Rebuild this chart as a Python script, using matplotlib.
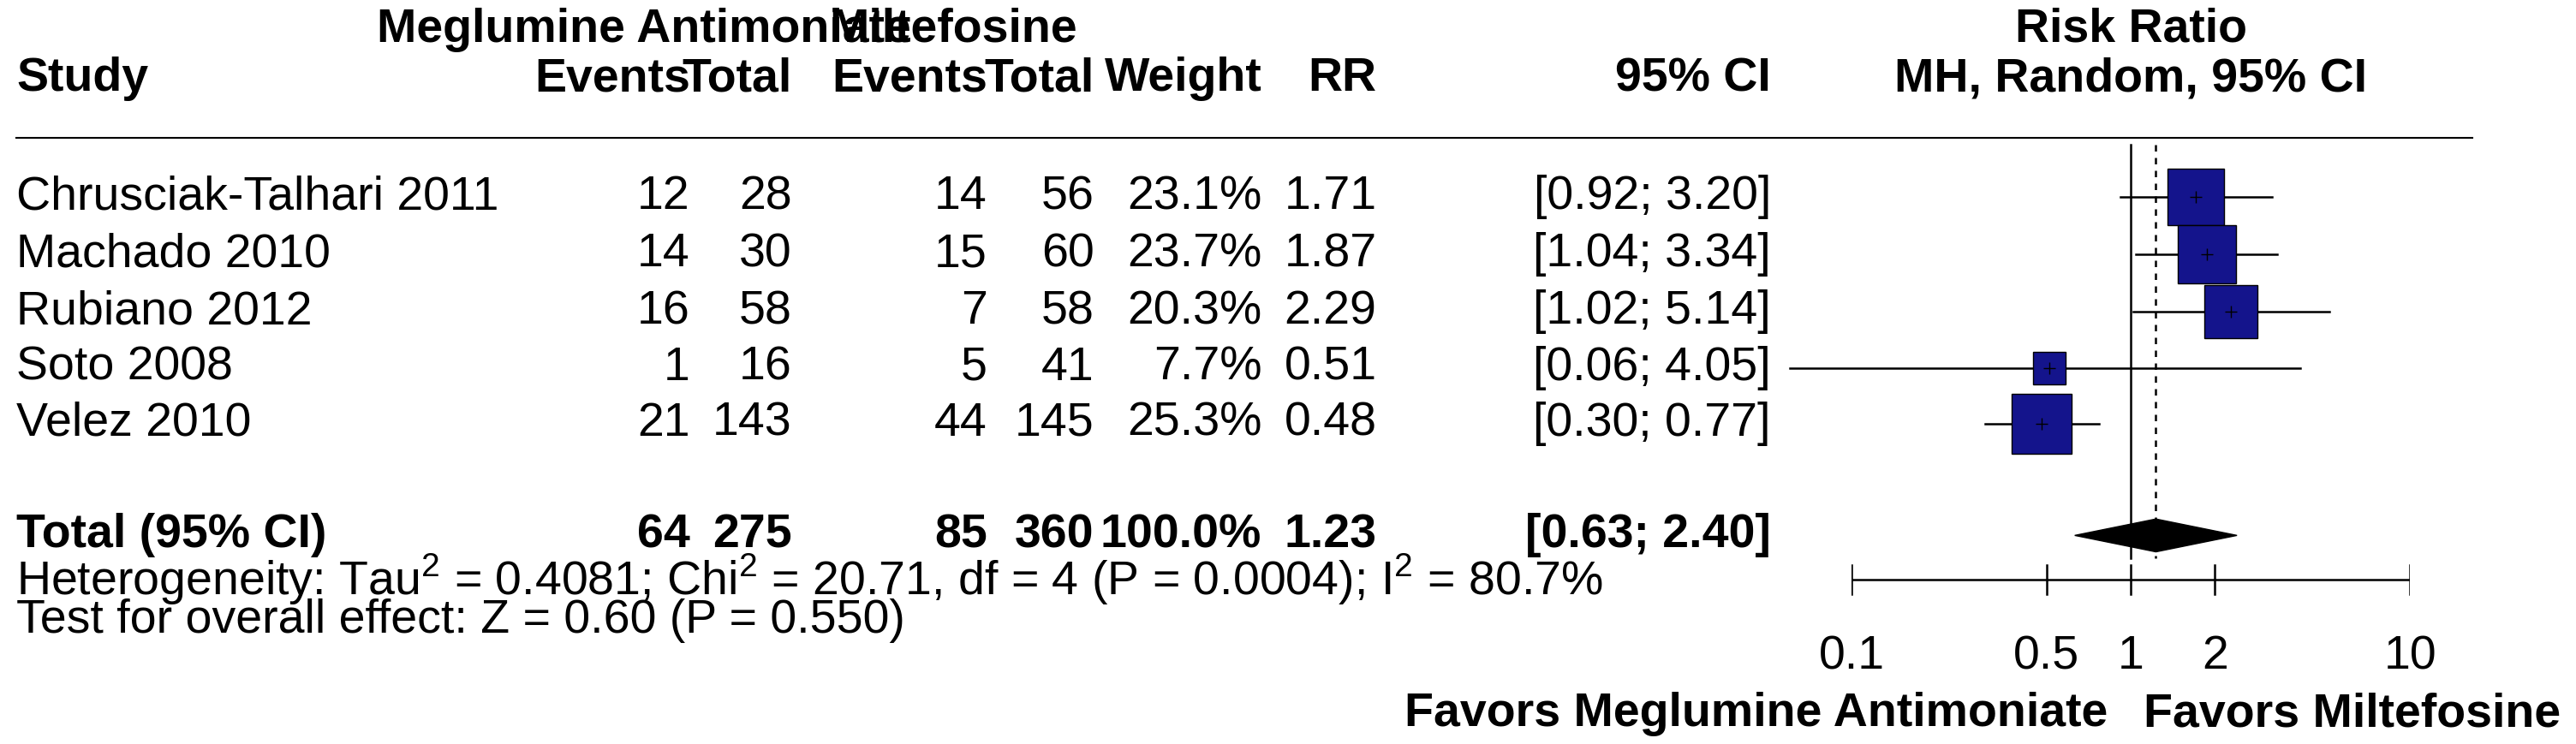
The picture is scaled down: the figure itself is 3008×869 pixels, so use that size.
import numpy as np
import matplotlib.pyplot as plt

plt.rcParams['font.family'] = ['Liberation Sans', 'DejaVu Sans']
plt.rcParams['mathtext.fontset'] = 'custom'
plt.rcParams['mathtext.rm'] = 'Liberation Sans'

studies = ['Chrusciak-Talhari 2011', 'Machado 2010', 'Rubiano 2012', 'Soto 2008', 'Velez 2010']
ev1 = [12, 14, 16, 1, 21]
tot1 = [28, 30, 58, 16, 143]
ev2 = [14, 15, 7, 5, 44]
tot2 = [56, 60, 58, 41, 145]
weight = [23.1, 23.7, 20.3, 7.7, 25.3]
rr = [1.71, 1.87, 2.29, 0.51, 0.48]
lo = [0.92, 1.04, 1.02, 0.06, 0.30]
hi = [3.20, 3.34, 5.14, 4.05, 0.77]
pooled = (1.23, 0.63, 2.40)
ticks = [0.1, 0.5, 1, 2, 10]

W, H = 1568, 453
fig = plt.figure(figsize=(30.08, 8.69), dpi=100)
ax = fig.add_axes([0, 0, 1, 1])
ax.set_xlim(0, W); ax.set_ylim(H, 0); ax.axis('off')
fs = 40
rows_y = [120, 155, 190, 224, 258]
tot_y = 326

def t(x, y, s, ha='right', bold=False):
    ax.text(x, y, s, ha=ha, va='center', fontsize=fs, fontweight='bold' if bold else 'normal')

t(392, 18, 'Meglumine Antimoniate', 'center', True)
t(580, 18, 'Miltefosine', 'center', True)
t(1297, 18, 'Risk Ratio', 'center', True)
for x, s in [(420, 'Events'), (482, 'Total'), (601, 'Events'), (666, 'Total'),
             (768, 'Weight'), (838, 'RR'), (1078, '95% CI')]:
    t(x, 48, s, bold=True)
t(10, 48, 'Study', 'left', True)
t(1297, 48, 'MH, Random, 95% CI', 'center', True)
ax.plot([10, 1505], [84, 84], color='black', lw=1.5)

for i, y in enumerate(rows_y):
    t(10, y, studies[i], 'left')
    t(420, y, str(ev1[i])); t(482, y, str(tot1[i]))
    t(601, y, str(ev2[i])); t(666, y, str(tot2[i]))
    t(768, y, f'{weight[i]:.1f}%'); t(838, y, f'{rr[i]:.2f}')
    t(1078, y, f'[{lo[i]:.2f}; {hi[i]:.2f}]')
t(10, tot_y, 'Total (95% CI)', 'left', True)
t(420, tot_y, str(sum(ev1)), bold=True); t(482, tot_y, str(sum(tot1)), bold=True)
t(601, tot_y, str(sum(ev2)), bold=True); t(666, tot_y, str(sum(tot2)), bold=True)
t(768, tot_y, '100.0%', bold=True); t(838, tot_y, f'{pooled[0]:.2f}', bold=True)
t(1078, tot_y, f'[{pooled[1]:.2f}; {pooled[2]:.2f}]', bold=True)
t(10, 353, r'Heterogeneity: Tau$^{\rm 2}$ = 0.4081; Chi$^{\rm 2}$ = 20.71, df = 4 (P = 0.0004); I$^{\rm 2}$ = 80.7%', 'left')
t(10, 378, 'Test for overall effect: Z = 0.60 (P = 0.550)', 'left')
t(1283, 435, 'Favors Meglumine Antimoniate', bold=True)
t(1305, 435, 'Favors Miltefosine', 'left', True)

fx = fig.add_axes([1127 / W, 0, 340 / W, 1])
fx.set_xscale('log'); fx.set_xlim(0.1, 10); fx.set_ylim(H, 0); fx.axis('off')
fx.plot([1, 1], [88, 340], color='black', lw=1.8)
fx.plot([pooled[0]] * 2, [88, 340], color='black', lw=1.8, ls=(0, (3, 3)))
for i, y in enumerate(rows_y):
    fx.plot([lo[i], hi[i]], [y, y], color='black', lw=1.8, clip_on=False)
    side = 7.2 * np.sqrt(weight[i])
    fx.plot([rr[i]], [y], marker='s', ms=side * 3008 / W * 0.72, mfc='#14148c',
            mec='black', mew=1, clip_on=False)
    fx.plot([rr[i]], [y], marker='+', ms=10, color='black', mew=1)
p, l, h = pooled
fx.fill([l, p, h, p], [tot_y, tot_y - 10, tot_y, tot_y + 10], color='black')
fx.plot([0.1, 10], [353, 353], color='black', lw=1.8)
for v in ticks:
    fx.plot([v, v], [344, 362], color='black', lw=1.8)
    fx.text(v, 400, f'{v:g}', ha='center', va='center', fontsize=fs)

fig.savefig('out.png')
